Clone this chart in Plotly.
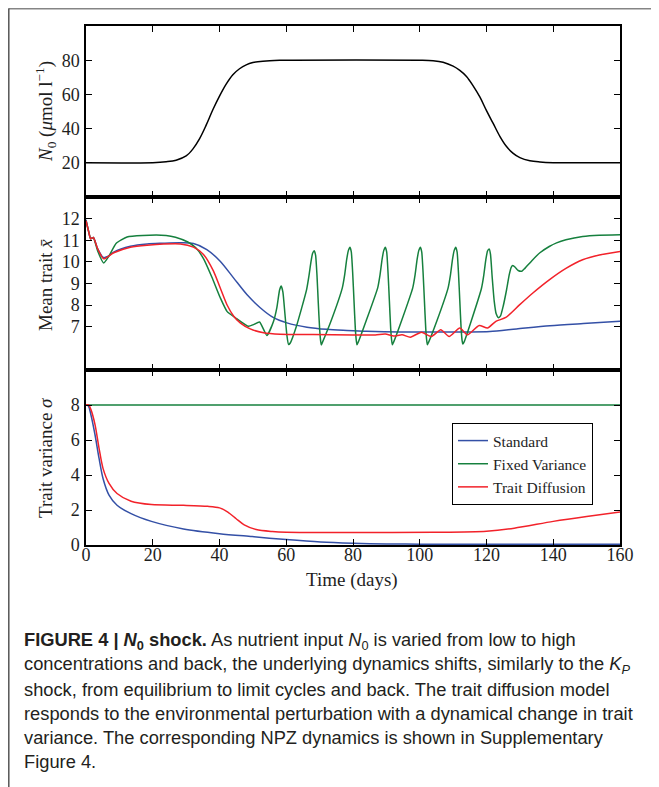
import plotly.graph_objects as go

W, H = 659, 787
OFF = 8  # the page body margin shifts the figure by this many pixels

# ---------------- data ----------------
t_n0 = [0, 20, 24, 27, 30, 32, 34, 36, 38, 40, 42, 44, 46, 48, 50, 53, 58, 62,
        100, 104, 107, 110, 112, 114, 116, 118, 120, 122, 124, 126, 128, 130, 133, 136, 140, 145, 160]
n0 = [20, 20.1, 20.6, 21.5, 24, 28, 34, 42, 51, 59, 66, 71.5, 75, 77.3, 78.6, 79.4, 79.9, 80,
      80, 79.7, 78.8, 76.5, 74, 70.5, 65, 58.5, 50.5, 43, 35.5, 29.5, 25.5, 23, 21.2, 20.5, 20.1, 20, 20]

t_std_mean = [0, 0.8, 1.4, 2.2, 3.5, 5.2, 6.5, 8.3, 13.3, 18.3, 23, 28.3, 32.2, 36.2, 40.2, 44.2, 48.2,
              52.2, 56.2, 60.2, 66.2, 72.2, 78.2, 84, 94, 104, 114, 121, 129, 139, 149, 160]
std_mean = [11.95, 11.4, 11.07, 11.13, 10.6, 10.2, 10.25, 10.45, 10.72, 10.83, 10.86, 10.88, 10.85, 10.57,
            10.03, 9.26, 8.49, 7.88, 7.42, 7.18, 6.98, 6.88, 6.83, 6.79, 6.76, 6.76, 6.76, 6.78, 6.9, 7.05,
            7.15, 7.25]

t_fix_mean = [0, 0.8, 1.4, 2.2, 3.5, 5.3, 7, 9, 12.3, 17, 24, 26.8, 30.5, 32.9, 35.2, 37.7, 40.2, 42.3,
              45.1, 48.7, 50.2, 52, 54.2, 56.2, 57.2, 58.0, 58.5, 59.0, 59.6, 60.2, 60.7, 61.2,
              63, 66.1, 66.8, 67.4, 67.9, 68.4, 68.8, 69.2, 69.6, 70.0, 70.3, 70.5, 70.9,
              73.5, 76.8, 77.5, 78.1, 78.6, 79.1, 79.5, 79.9, 80.3, 80.7, 81.0, 81.2, 81.6,
              84, 87.4, 88.1, 88.7, 89.2, 89.7, 90.1, 90.5, 90.9, 91.3, 91.6, 91.8, 92.2,
              94.6, 97.9, 98.6, 99.2, 99.7, 100.2, 100.6, 101.0, 101.4, 101.8, 102.1, 102.3, 102.7,
              105.2, 108.5, 109.2, 109.8, 110.3, 110.8, 111.2, 111.6, 112.0, 112.4, 112.7, 112.9, 113.3,
              115.5, 118.5, 119.2, 119.8, 120.3, 120.8, 121.2, 121.7, 122.3, 122.9, 123.6, 124.2,
              125.0, 126.0, 126.8, 127.4, 127.9, 128.6, 129.5, 130.6, 131.5, 133.8, 136, 138.8, 141,
              143.8, 148.8, 153.8, 160]
fix_mean = [11.9, 11.4, 11.07, 11.13, 10.5, 9.95, 10.3, 10.85, 11.15, 11.22, 11.22, 11.14, 10.92, 10.65,
            10.15, 9.3, 8.35, 7.7, 7.38, 7.02, 7.1, 7.22, 6.6, 7.26, 7.9, 8.7, 8.88, 8.6, 7.6, 6.6, 6.18, 6.25,
            7.0, 8.72, 9.35, 10.0, 10.4, 10.52, 10.3, 9.4, 8.1, 6.9, 6.35, 6.16, 6.3,
            7.3, 8.8, 9.4, 10.1, 10.52, 10.68, 10.45, 9.5, 8.2, 6.9, 6.35, 6.17, 6.3,
            7.3, 8.8, 9.4, 10.1, 10.52, 10.68, 10.45, 9.5, 8.2, 6.9, 6.35, 6.17, 6.3,
            7.3, 8.8, 9.4, 10.1, 10.52, 10.68, 10.45, 9.5, 8.2, 6.9, 6.35, 6.17, 6.3,
            7.3, 8.8, 9.4, 10.1, 10.52, 10.68, 10.45, 9.5, 8.2, 6.9, 6.35, 6.2, 6.3,
            7.3, 8.78, 9.4, 10.1, 10.5, 10.6, 10.35, 9.3, 8.2, 7.6, 7.42, 7.5,
            7.95, 8.7, 9.4, 9.75, 9.83, 9.75, 9.6, 9.57, 9.7, 10.09, 10.42, 10.71, 10.88,
            11.02, 11.17, 11.23, 11.25]

t_td_mean = [0, 0.8, 1.4, 2.2, 3.5, 5.3, 8.3, 13.3, 18.3, 28.3, 32.2, 35.2, 38.2, 40.2, 42.2, 44.2, 46.2,
             49.2, 53.2, 58.2, 68, 80, 86.7, 89.7, 92.2, 94.7, 97.2, 100.5, 103.5, 106.3, 108.8, 112, 114.3,
             117.8, 120.3, 122.8, 125.8, 129.8, 133.8, 138.8, 143.8, 148.8, 153.8, 160]
td_mean = [11.9, 11.4, 11.07, 11.13, 10.6, 10.14, 10.42, 10.68, 10.77, 10.83, 10.68, 10.34, 9.57, 8.8,
           8.03, 7.5, 7.18, 6.9, 6.72, 6.65, 6.64, 6.62, 6.62, 6.66, 6.57, 6.63, 6.52, 6.75, 6.55, 6.86,
           6.55, 6.94, 6.63, 7.06, 6.94, 7.25, 7.43, 8.0, 8.55, 9.17, 9.7, 10.1, 10.32, 10.48]

t_std_var = [0, 0.7, 1.45, 2.7, 3.9, 5.1, 6.9, 9.3, 13.5, 19.6, 29.2, 40, 49.8, 60, 70.3, 80, 90, 100, 120, 140, 160]
std_var = [8.0, 7.95, 7.46, 6.3, 4.96, 3.8, 2.85, 2.27, 1.79, 1.35, 0.92, 0.65, 0.48, 0.31, 0.17, 0.1, 0.06,
           0.05, 0.04, 0.04, 0.04]

t_fix_var = [0, 160]
fix_var = [8, 8]

t_td_var = [0, 0.8, 1.45, 2.7, 3.9, 5.1, 6.9, 9.3, 13.5, 19.6, 29.2, 36.5, 40, 42.5, 45, 47.4, 51, 55.8, 60,
            80, 104, 120, 128.3, 140, 150, 160]
td_var = [8.0, 8.0, 7.75, 6.88, 5.54, 4.38, 3.52, 2.94, 2.5, 2.31, 2.27, 2.21, 2.12, 1.88, 1.5, 1.15, 0.88,
          0.77, 0.73, 0.72, 0.73, 0.79, 0.96, 1.35, 1.63, 1.88]

x_ticks = [0, 20, 40, 60, 80, 100, 120, 140, 160]
n0_ticks = [20, 40, 60, 80]
mean_ticks = [7, 8, 9, 10, 11, 12]
var_ticks = [0, 2, 4, 6, 8]

caption_lines = [
    "<b>FIGURE 4 | <i>N</i><sub>0</sub> shock.</b> As nutrient input <i>N</i><sub>0</sub> is varied from low to high",
    "concentrations and back, the underlying dynamics shifts, similarly to the <i>K</i><sub><i>P</i></sub>",
    "shock, from equilibrium to limit cycles and back. The trait diffusion model",
    "responds to the environmental perturbation with a dynamical change in trait",
    "variance. The corresponding NPZ dynamics is shown in Supplementary",
    "Figure 4.",
]

BLUE = "#3450a6"
GREEN = "#16803e"
RED = "#f2222a"
SERIF = "Liberation Serif, Times New Roman, serif"
TXT = "#1e1e1e"

# ---------------- figure ----------------
fig = go.Figure()

def px_x(p):
    return (p - OFF) / W

def px_y(p):
    return (H - (p - OFF)) / H

fig.add_trace(go.Scatter(x=t_n0, y=n0, mode="lines", line=dict(color="black", width=1.5, shape="spline", smoothing=1),
                         xaxis="x", yaxis="y", showlegend=False))

fig.add_trace(go.Scatter(x=t_std_mean, y=std_mean, mode="lines", line=dict(color=BLUE, width=1.5, shape="spline", smoothing=0.8),
                         xaxis="x2", yaxis="y2", showlegend=False))
fig.add_trace(go.Scatter(x=t_fix_mean, y=fix_mean, mode="lines", line=dict(color=GREEN, width=1.5, shape="spline", smoothing=0.5),
                         xaxis="x2", yaxis="y2", showlegend=False))
fig.add_trace(go.Scatter(x=t_td_mean, y=td_mean, mode="lines", line=dict(color=RED, width=1.5, shape="spline", smoothing=0.6),
                         xaxis="x2", yaxis="y2", showlegend=False))

fig.add_trace(go.Scatter(x=t_std_var, y=std_var, mode="lines", name="Standard",
                         line=dict(color=BLUE, width=1.5, shape="spline", smoothing=0.8), xaxis="x3", yaxis="y3"))
fig.add_trace(go.Scatter(x=t_fix_var, y=fix_var, mode="lines", name="Fixed Variance",
                         line=dict(color=GREEN, width=1.5), xaxis="x3", yaxis="y3"))
fig.add_trace(go.Scatter(x=t_td_var, y=td_var, mode="lines", name="Trait Diffusion",
                         line=dict(color=RED, width=1.5, shape="spline", smoothing=0.8), xaxis="x3", yaxis="y3"))

xdom = [px_x(86), px_x(620)]
dom1 = [px_y(197), px_y(26)]
dom2 = [px_y(370), px_y(197)]
dom3 = [px_y(545), px_y(370)]

axis_common = dict(showline=True, linecolor="black", linewidth=1.5, mirror="ticks", ticks="inside",
                   ticklen=6, tickwidth=1, tickcolor="black", showgrid=False, zeroline=False,
                   automargin=False,
                   tickfont=dict(family=SERIF, size=18, color=TXT))

fig.update_layout(
    template="none",
    width=W, height=H, margin=dict(l=0, r=0, t=0, b=0, pad=0), autosize=False,
    paper_bgcolor="white", plot_bgcolor="white",
    xaxis=dict(domain=xdom, anchor="y", range=[0, 160], tickvals=x_ticks, showticklabels=False, **axis_common),
    yaxis=dict(domain=dom1, anchor="x", range=[0, 100], tickvals=n0_ticks, ticklabelstandoff=1, **axis_common),
    xaxis2=dict(domain=xdom, anchor="y2", range=[0, 160], tickvals=x_ticks, showticklabels=False, **axis_common),
    yaxis2=dict(domain=dom2, anchor="x2", range=[5, 13], tickvals=mean_ticks, ticklabelstandoff=1, **axis_common),
    xaxis3=dict(domain=xdom, anchor="y3", range=[0, 160], tickvals=x_ticks, ticklabelstandoff=-7, **axis_common),
    yaxis3=dict(domain=dom3, anchor="x3", range=[0, 10], tickvals=var_ticks, ticklabelstandoff=1, **axis_common),
    legend=dict(x=px_x(452), y=px_y(423), xanchor="left", yanchor="top",
                bordercolor="black", borderwidth=1, bgcolor="white",
                font=dict(family=SERIF, size=15.5, color=TXT), tracegroupgap=0),
    showlegend=True,
)

# axis titles
fig.add_annotation(text="<i>N</i><sub>0</sub> (<i>μ</i>mol l<sup>−1</sup>)", x=px_x(45), y=px_y(112),
                   xref="paper", yref="paper", xanchor="center", yanchor="middle", textangle=-90, showarrow=False,
                   font=dict(family=SERIF, size=19, color=TXT))
fig.add_annotation(text="Mean trait <i>x̄</i>", x=px_x(45), y=px_y(285),
                   xref="paper", yref="paper", xanchor="center", yanchor="middle", textangle=-90, showarrow=False,
                   font=dict(family=SERIF, size=19, color=TXT))
fig.add_annotation(text="Trait variance <i>σ</i>", x=px_x(45), y=px_y(458),
                   xref="paper", yref="paper", xanchor="center", yanchor="middle", textangle=-90, showarrow=False,
                   font=dict(family=SERIF, size=19, color=TXT))
fig.add_annotation(text="Time (days)", x=px_x(352), y=px_y(580),
                   xref="paper", yref="paper", xanchor="center", yanchor="middle", showarrow=False,
                   font=dict(family=SERIF, size=19, color=TXT))

# caption
for i, line in enumerate(caption_lines):
    fig.add_annotation(text=line, x=px_x(22), y=px_y(641 + 24 * i), xref="paper", yref="paper",
                       xanchor="left", yanchor="middle", align="left", showarrow=False,
                       font=dict(family="Liberation Sans Narrow, Arial Narrow, Liberation Sans, sans-serif",
                                 size=18.3, color="#231f20"))

# frame
fig.add_shape(type="line", xref="paper", yref="paper", x0=px_x(8.5), x1=1, y0=px_y(8.5), y1=px_y(8.5),
              line=dict(color="#858585", width=2))
fig.add_shape(type="line", xref="paper", yref="paper", x0=px_x(8.8), x1=px_x(8.8), y0=0, y1=px_y(8.5),
              line=dict(color="#555555", width=1.5))

fig.write_html("out.html")
